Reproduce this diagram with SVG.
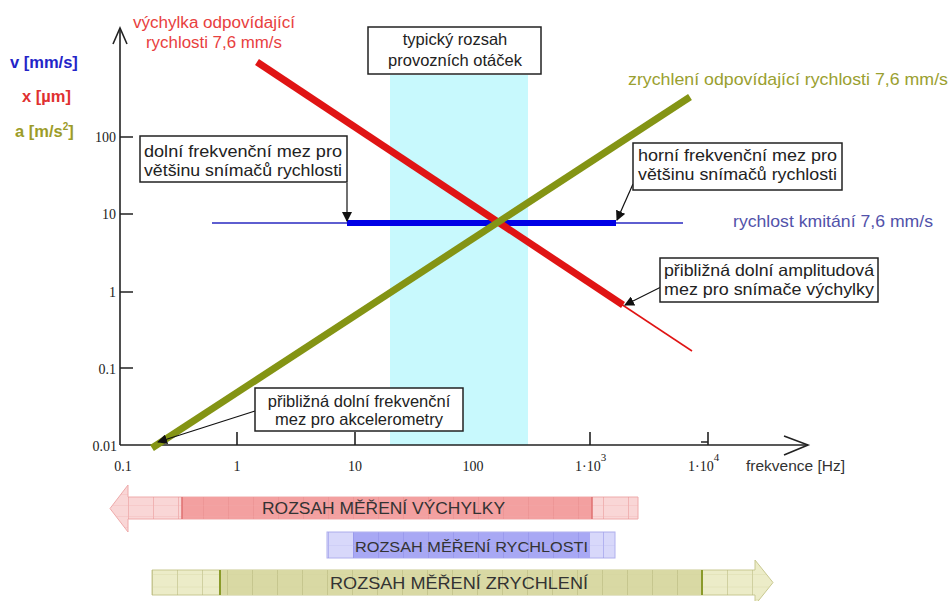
<svg xmlns="http://www.w3.org/2000/svg" width="950" height="601" viewBox="0 0 950 601">
<defs>
<style>
.sans{font-family:"Liberation Sans",Arial,sans-serif;}
.serif{font-family:"Liberation Serif","Times New Roman",serif;font-size:14px;fill:#222;}
.box{fill:#fff;stroke:#222;stroke-width:1.5;}
.boxt{font-family:"Liberation Sans",Arial,sans-serif;font-size:16.5px;fill:#222;}
.axis{stroke:#222;stroke-width:1.6;fill:none;}
.call{stroke:#111;stroke-width:1.2;fill:none;marker-end:url(#ah);}
.bart{font-family:"Liberation Sans",Arial,sans-serif;fill:#333;}
</style>
<marker id="ah" viewBox="0 0 10 10" refX="9" refY="5" markerWidth="10" markerHeight="10" markerUnits="userSpaceOnUse" orient="auto">
<path d="M0,0 L10,5 L0,10 z" fill="#111"/>
</marker>
<pattern id="gR" x="3" y="0" width="25" height="11" patternUnits="userSpaceOnUse">
<path d="M0,0 V11" stroke="#e58a8a" stroke-width="1"/>
<path d="M0,11 H25" stroke="#eeaaaa" stroke-width="0.6"/>
</pattern>
<pattern id="gB" x="3" y="0" width="25" height="13" patternUnits="userSpaceOnUse">
<path d="M0,0 V13" stroke="#8c8ce6" stroke-width="1"/>
<path d="M0,13 H25" stroke="#b8b8f0" stroke-width="0.6"/>
</pattern>
<pattern id="gG" x="2" y="0" width="25" height="12.5" patternUnits="userSpaceOnUse">
<path d="M0,0 V12.5" stroke="#b4b478" stroke-width="1"/>
<path d="M0,12.5 H25" stroke="#cfcf9a" stroke-width="0.6"/>
</pattern>
</defs>
<rect x="0" y="0" width="950" height="601" fill="#fff"/>

<g id="band">
<rect x="390" y="75" width="138" height="370" fill="#c8f9fd"/>
</g>

<g id="axes">
<path class="axis" d="M120,445 V28"/>
<path class="axis" d="M113,44 L120,28 L127,44"/>
<path class="axis" d="M120,445 H808"/>
<path class="axis" d="M784,436 L808,445 L784,455"/>
<path class="axis" d="M120,137 H133 M120,214 H133 M120,292 H133 M120,368 H133"/>
<path class="axis" d="M237,445 V432 M355,445 V432 M590,445 V432 M708,445 V432 M701,442 H708"/>
<text class="serif" x="116" y="142" text-anchor="end">100</text>
<text class="serif" x="116" y="219" text-anchor="end">10</text>
<text class="serif" x="116" y="297" text-anchor="end">1</text>
<text class="serif" x="116" y="374" text-anchor="end">0.1</text>
<text class="serif" x="117" y="451" text-anchor="end">0.01</text>
<text class="serif" x="123" y="471" text-anchor="middle">0.1</text>
<text class="serif" x="237" y="471" text-anchor="middle">1</text>
<text class="serif" x="355" y="471" text-anchor="middle">10</text>
<text class="serif" x="473" y="471" text-anchor="middle">100</text>
<text class="serif" x="575" y="471">1·10<tspan font-size="11" dy="-10">3</tspan></text>
<text class="serif" x="688" y="471">1·10<tspan font-size="11" dy="-10">4</tspan></text>
<text class="sans" x="746" y="471" font-size="15.5" fill="#333">frekvence [Hz]</text>
</g>

<g id="units">
<text class="sans" x="10" y="68" font-size="16.5" font-weight="bold" fill="#2424c8">v [mm/s]</text>
<text class="sans" x="22" y="102" font-size="16.5" font-weight="bold" fill="#e03030">x [µm]</text>
<text class="sans" x="15" y="137" font-size="16.5" font-weight="bold" fill="#9c9c28">a [m/s<tspan font-size="10" dy="-7">2</tspan><tspan dy="7">]</tspan></text>
</g>

<g id="connectors">
<line x1="212" y1="223" x2="683" y2="223" stroke="#2828c0" stroke-width="1.6"/>
<line x1="347" y1="223" x2="616" y2="223" stroke="#0000e6" stroke-width="6"/>
<line x1="257" y1="62" x2="623" y2="305" stroke="#e01414" stroke-width="7"/>
<line x1="621" y1="304" x2="692" y2="351" stroke="#e01414" stroke-width="1.5"/>
<line x1="152" y1="448" x2="690" y2="97" stroke="#849414" stroke-width="7"/>
<path class="call" d="M347,183 V221"/>
<path class="call" d="M633,184 L617,220"/>
<path class="call" d="M661,287 L625,305"/>
<path class="call" d="M255,411 L158,442"/>
</g>

<g id="title-x">
<text class="sans" x="214" y="28" font-size="16" fill="#e84040" text-anchor="middle" textLength="162" lengthAdjust="spacingAndGlyphs">výchylka odpovídající</text>
<text class="sans" x="214" y="48" font-size="16" fill="#e84040" text-anchor="middle" textLength="136" lengthAdjust="spacingAndGlyphs">rychlosti 7,6 mm/s</text>
</g>

<g id="title-a">
<text class="sans" x="628" y="85" font-size="17" fill="#9aa030" textLength="320" lengthAdjust="spacingAndGlyphs">zrychlení odpovídající rychlosti 7,6 mm/s</text>
</g>

<g id="title-v">
<text class="sans" x="733" y="227" font-size="17" fill="#5252aa" textLength="200" lengthAdjust="spacingAndGlyphs">rychlost kmitání 7,6 mm/s</text>
</g>

<g id="box-otacky">
<rect class="box" x="368" y="27" width="173" height="47"/>
<text class="boxt" x="455" y="45" text-anchor="middle">typický rozsah</text>
<text class="boxt" x="455" y="66" text-anchor="middle">provozních otáček</text>
</g>

<g id="box-dolni-v">
<rect class="box" x="140" y="136" width="207" height="46"/>
<text class="boxt" x="144" y="157" textLength="198" lengthAdjust="spacingAndGlyphs">dolní frekvenční mez  pro</text>
<text class="boxt" x="144" y="176" textLength="198" lengthAdjust="spacingAndGlyphs">většinu snímačů rychlosti</text>
</g>

<g id="box-horni-v">
<rect class="box" x="633" y="143" width="209" height="47"/>
<text class="boxt" x="638" y="161" textLength="199" lengthAdjust="spacingAndGlyphs">horní frekvenční mez  pro</text>
<text class="boxt" x="638" y="180" textLength="199" lengthAdjust="spacingAndGlyphs">většinu snímačů rychlosti</text>
</g>

<g id="box-amplituda">
<rect class="box" x="660" y="258" width="218" height="44"/>
<text class="boxt" x="664" y="276" textLength="210" lengthAdjust="spacingAndGlyphs">přibližná dolní amplitudová</text>
<text class="boxt" x="664" y="295" textLength="210" lengthAdjust="spacingAndGlyphs">mez pro snímače výchylky</text>
</g>

<g id="box-akcel">
<rect class="box" x="255" y="388" width="208" height="43"/>
<text class="boxt" x="359" y="407" text-anchor="middle">přibližná dolní frekvenční</text>
<text class="boxt" x="359" y="425" text-anchor="middle">mez pro akcelerometry</text>
</g>

<g id="bar-vychylka">
<path d="M638,497 H128 V485 L110,508.5 L128,532 V519 H638 Z" fill="#f9d6d6" stroke="#eeaaaa" stroke-width="1"/>
<rect x="182" y="497" width="410" height="22" fill="#f3a0a0"/>
<path d="M638,497 H128 V485 L110,508.5 L128,532 V519 H638 Z" fill="url(#gR)" stroke="none" opacity="0.9"/>
<path d="M182,497 V519 M592,497 V519" stroke="#e07070" stroke-width="1.5"/>
<text class="bart" x="262" y="514" font-size="16" textLength="243" lengthAdjust="spacingAndGlyphs">ROZSAH MĚŘENÍ VÝCHYLKY</text>
</g>

<g id="bar-rychlost">
<rect x="327" y="532" width="288" height="26" fill="#d8d8fa" stroke="#b0b0ee" stroke-width="1"/>
<rect x="353" y="532" width="237" height="26" fill="#a8a8f4"/>
<rect x="327" y="532" width="288" height="26" fill="url(#gB)"/>
<text class="bart" x="355" y="552" font-size="15" textLength="233" lengthAdjust="spacingAndGlyphs">ROZSAH MĚŘENÍ RYCHLOSTI</text>
</g>

<g id="bar-zrychleni">
<path d="M152,570 H755 V560 L773,582.5 L755,605 V595 H152 Z" fill="#ececc8" stroke="#c8c890" stroke-width="1"/>
<rect x="220" y="570" width="482" height="25" fill="#d9d9a4"/>
<path d="M152,570 H755 V560 L773,582.5 L755,605 V595 H152 Z" fill="url(#gG)" stroke="none"/>
<path d="M220,570 V595 M702,570 V595" stroke="#8a9a2a" stroke-width="2"/>
<text class="bart" x="330" y="589" font-size="17" textLength="258" lengthAdjust="spacingAndGlyphs">ROZSAH MĚŘENÍ ZRYCHLENÍ</text>
</g>
</svg>
